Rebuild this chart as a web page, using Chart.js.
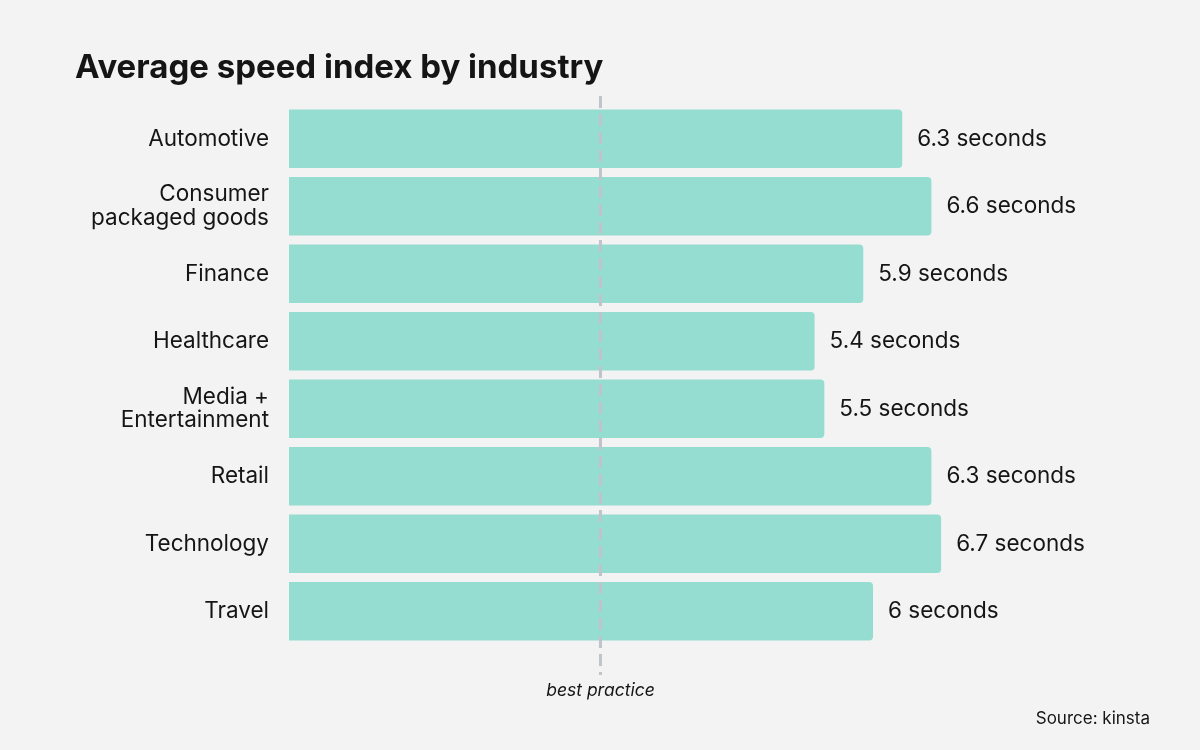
<!DOCTYPE html>
<html>
<head>
<meta charset="utf-8">
<script src="https://cdn.jsdelivr.net/npm/chart.js@4.4.1/dist/chart.umd.min.js"></script>
<style>
  html, body { margin: 0; padding: 0; background: #f3f3f3; }
  #wrap { position: relative; width: 1200px; height: 750px; }
  canvas { display: block; }
</style>
</head>
<body>
<div id="wrap"><canvas id="barChart" width="1200" height="750"></canvas></div>
<script>
const industries = [
	"Automotive",
	["Consumer", "packaged goods"],
	"Finance",
	"Healthcare",
	["Media +", "Entertainment"],
	"Retail",
	"Technology",
	"Travel"
];
// bar lengths as drawn in the picture
const barValues = [6.3, 6.6, 5.9, 5.4, 5.5, 6.6, 6.7, 6.0];
// texts printed next to the bars
const valueLabels = ["6.3 seconds", "6.6 seconds", "5.9 seconds", "5.4 seconds", "5.5 seconds", "6.3 seconds", "6.7 seconds", "6 seconds"];
const bestPractice = 3.2;

const textColor = "#151515";

// labels, reference line and extra texts
const extras = {
	id: "extras",
	afterDatasetsDraw(chart) {
		const { ctx, chartArea, scales } = chart;
		const meta = chart.getDatasetMeta(0);
		ctx.save();

		// dashed best practice line
		const bx = scales.x.getPixelForValue(bestPractice);
		ctx.strokeStyle = "#c0c3cb";
		ctx.lineWidth = 3;
		ctx.setLineDash([12, 6]);
		ctx.beginPath();
		ctx.moveTo(bx, chartArea.top - 9);
		ctx.lineTo(bx, chartArea.bottom + 30);
		ctx.stroke();
		ctx.setLineDash([]);

		ctx.fillStyle = textColor;
		ctx.font = "italic 17.5px Inter";
		ctx.textAlign = "center";
		ctx.textBaseline = "middle";
		ctx.fillText("best practice", bx, chartArea.bottom + 46);

		// value labels
		ctx.font = "22.5px Inter";
		ctx.textAlign = "left";
		meta.data.forEach((bar, i) => {
			ctx.fillText(valueLabels[i], bar.x + 15, bar.y);
		});

		// title and source
		ctx.font = "bold 33px Inter";
		ctx.textBaseline = "alphabetic";
		ctx.fillText("Average speed index by industry", 75, 78);

		ctx.font = "17px Inter";
		ctx.textAlign = "right";
		ctx.fillText("Source: kinsta", 1150, 724);
		ctx.restore();
	}
};

new Chart(document.getElementById("barChart"), {
	type: "bar",
	data: {
		labels: industries,
		datasets: [{
			data: barValues,
			backgroundColor: "#95ddd0",
			borderRadius: 4,
			barPercentage: 0.87,
			categoryPercentage: 1
		}]
	},
	options: {
		indexAxis: "y",
		responsive: false,
		animation: false,
		layout: { padding: { left: 20, right: 35, top: 105, bottom: 105 } },
		scales: {
			x: { display: false, min: 0, max: 9 },
			y: {
				afterFit(axis) { axis.width = 269; },
				grid: { display: false, drawTicks: false },
				border: { display: false },
				ticks: {
					color: textColor,
					padding: 20,
					font: { family: "Inter", size: 22.5, lineHeight: 1.03 }
				}
			}
		},
		plugins: {
			legend: { display: false },
			tooltip: { enabled: false }
		}
	},
	plugins: [extras]
});
</script>
</body>
</html>
